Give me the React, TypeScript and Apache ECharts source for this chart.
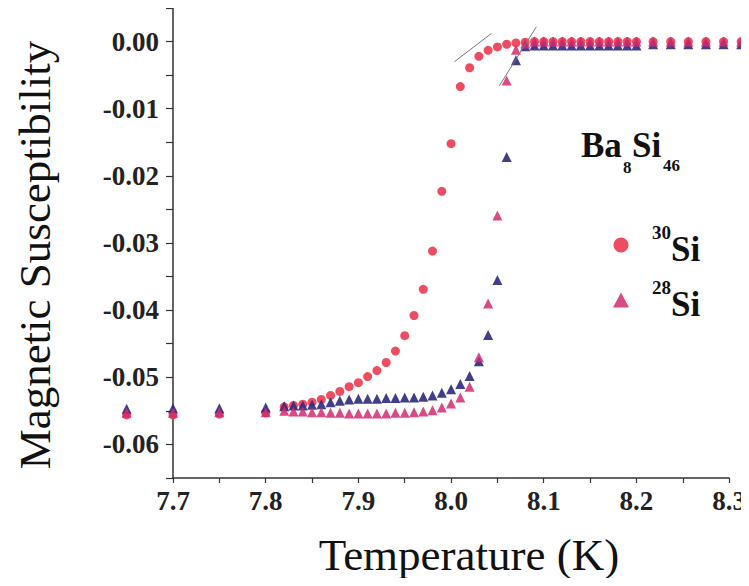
import React, { useEffect, useRef } from "react";
import * as echarts from "echarts";

// Temperature (K) of each measured point
const temperatures = [
  7.65, 7.7, 7.75, 7.8,
  7.82, 7.83, 7.84, 7.85, 7.86, 7.87, 7.88, 7.89, 7.9, 7.91, 7.92, 7.93, 7.94,
  7.95, 7.96, 7.97, 7.98, 7.99, 8.0, 8.01, 8.02, 8.03, 8.04, 8.05, 8.06, 8.07,
  8.08, 8.09, 8.1, 8.11, 8.12, 8.13, 8.14, 8.15, 8.16, 8.17, 8.18, 8.19, 8.2,
  8.218, 8.237, 8.256, 8.275, 8.294, 8.313,
];

// 30Si (red circles)
const si30 = [
  -0.0556, -0.0556, -0.0555, -0.0553,
  -0.0544, -0.0542, -0.054, -0.0537, -0.0533, -0.0527, -0.0521, -0.0514, -0.0508,
  -0.0499, -0.049, -0.0478, -0.0461, -0.0438, -0.0408, -0.0369, -0.0312, -0.0223,
  -0.0152, -0.0067, -0.0039, -0.0022, -0.0013, -0.0008, -0.0004, -0.0002,
  -0.0001, 0, 0, 0, 0, 0, 0, 0, 0, 0, 0, 0, 0,
  0, 0, 0, 0, 0, 0,
];

// 28Si (magenta triangles)
const si28 = [
  -0.0553, -0.0553, -0.0552, -0.0552,
  -0.055, -0.0551, -0.0551, -0.0552, -0.0552, -0.0553, -0.0553, -0.0554, -0.0554,
  -0.0554, -0.0554, -0.0554, -0.0553, -0.0553, -0.0552, -0.0551, -0.0549, -0.0545,
  -0.0539, -0.053, -0.0514, -0.047, -0.039, -0.0259, -0.0058, -0.0012,
  -0.0003, 0, 0, 0, 0, 0, 0, 0, 0, 0, 0, 0, 0,
  0, 0, 0, 0, 0, 0,
];

// 28Si, second run (navy triangles)
const si28b = [
  -0.0547, -0.0546, -0.0546, -0.0545,
  -0.0543, -0.0542, -0.0542, -0.0541, -0.054, -0.0537, -0.0535, -0.0533, -0.0532,
  -0.0532, -0.0532, -0.0531, -0.0531, -0.053, -0.053, -0.0529, -0.0527, -0.0523,
  -0.0518, -0.051, -0.0498, -0.0476, -0.0437, -0.0355, -0.0172, -0.0028,
  -0.0007, -0.0006, -0.0006, -0.0006, -0.0006, -0.0006, -0.0006, -0.0006, -0.0006,
  -0.0006, -0.0006, -0.0006, -0.0006,
  -0.0004, -0.0004, -0.0004, -0.0004, -0.0004, -0.0004,
];

// thin onset tangent lines [T, chi]
const tangentA = [
  [8.0036, -0.003],
  [8.0435, 0.0012],
];
const tangentB = [
  [8.052, -0.0066],
  [8.092, 0.0022],
];

const legendNames = ["30Si", "28Si"];
const xTitle = "Temperature (K)";
const yTitle = "Magnetic Susceptibility";

const SERIF = "'Liberation Serif', 'DejaVu Serif', serif";

const zip = (ys: number[]) => temperatures.map((t, i) => [t, ys[i]]);

export default function App() {
  const ref = useRef<HTMLDivElement>(null);
  useEffect(() => {
    if (!ref.current) return;
    const chart = echarts.init(ref.current, undefined, { renderer: "svg" });
    const option: any = {
      animation: false,
      backgroundColor: "#ffffff",
      grid: { left: 173, right: 19, top: 8, bottom: 108 },
      xAxis: {
        type: "value",
        min: 7.7,
        max: 8.3,
        interval: 0.05,
        axisLine: { show: true, onZero: false, lineStyle: { color: "#333", width: 1.5 } },
        axisTick: { show: true, length: 5, lineStyle: { color: "#333", width: 1.2 } },
        splitLine: { show: false },
        axisLabel: {
          fontFamily: SERIF,
          fontWeight: "bold",
          fontSize: 27,
          color: "#222",
          margin: 9,
          formatter: (v: number) =>
            Math.round(v * 100) % 10 === 0 ? v.toFixed(1) : "",
        },
      },
      yAxis: {
        type: "value",
        min: -0.065,
        max: 0.005,
        interval: 0.005,
        axisLine: { show: true, onZero: false, lineStyle: { color: "#333", width: 1.5 } },
        axisTick: { show: true, length: 7, lineStyle: { color: "#333", width: 1.2 } },
        splitLine: { show: false },
        axisLabel: {
          fontFamily: SERIF,
          fontWeight: "bold",
          fontSize: 27,
          color: "#222",
          margin: 14,
          formatter: (v: number) => {
            if (Math.round(v * 1000) % 10 !== 0) return "";
            if (Math.abs(v) < 1e-9) return "0.00";
            return v.toFixed(2);
          },
        },
      },
      legend: {
        data: legendNames,
        orient: "vertical",
        left: 608,
        top: 218,
        itemWidth: 16,
        itemHeight: 15,
        itemGap: 11,
        formatter: (n: string) =>
          n === "30Si" ? "{sp| }{sup|30}{si|Si}" : "{sp| }{sup|28}{si|Si}",
        textStyle: {
          rich: {
            sp: { width: 18, fontSize: 10 },
            sup: {
              fontFamily: SERIF,
              fontWeight: "bold",
              fontSize: 19,
              lineHeight: 20,
              color: "#111",
              verticalAlign: "top",
            },
            si: {
              fontFamily: SERIF,
              fontWeight: "bold",
              fontSize: 35,
              lineHeight: 44,
              color: "#111",
              verticalAlign: "bottom",
            },
          },
        },
      },
      graphic: [
        {
          type: "text",
          x: 35,
          y: 255,
          rotation: Math.PI / 2,
          style: {
            text: yTitle,
            font: `45px ${SERIF}`,
            fill: "#111",
            align: "center",
            verticalAlign: "middle",
          },
        },
        {
          type: "text",
          x: 469,
          y: 555,
          style: {
            text: xTitle,
            font: `45px ${SERIF}`,
            fill: "#111",
            align: "center",
            verticalAlign: "middle",
          },
        },
        {
          type: "text",
          x: 581,
          y: 145,
          style: { text: "Ba", font: `bold 35px ${SERIF}`, fill: "#111", align: "left", verticalAlign: "middle" },
        },
        {
          type: "text",
          x: 623,
          y: 167,
          style: { text: "8", font: `bold 17px ${SERIF}`, fill: "#111", align: "left", verticalAlign: "middle" },
        },
        {
          type: "text",
          x: 632,
          y: 145,
          style: { text: "Si", font: `bold 35px ${SERIF}`, fill: "#111", align: "left", verticalAlign: "middle" },
        },
        {
          type: "text",
          x: 663,
          y: 165,
          style: { text: "46", font: `bold 17px ${SERIF}`, fill: "#111", align: "left", verticalAlign: "middle" },
        },
      ],
      series: [
        {
          name: "30Si",
          type: "scatter",
          symbol: "circle",
          symbolSize: 9,
          clip: false,
          itemStyle: { color: "#ec3a50", opacity: 0.9 },
          data: zip(si30),
        },
        {
          name: "28Si run 2",
          type: "scatter",
          symbol: "triangle",
          symbolSize: 10,
          clip: false,
          itemStyle: { color: "#2c2a80", opacity: 0.9 },
          data: zip(si28b),
        },
        {
          name: "28Si",
          type: "scatter",
          symbol: "triangle",
          symbolSize: 10,
          clip: false,
          itemStyle: { color: "#d42a6e", opacity: 0.85 },
          data: zip(si28),
        },
        {
          name: "tangent A",
          type: "line",
          symbol: "none",
          silent: true,
          clip: false,
          lineStyle: { color: "#777", width: 1 },
          data: tangentA,
        },
        {
          name: "tangent B",
          type: "line",
          symbol: "none",
          silent: true,
          clip: false,
          lineStyle: { color: "#777", width: 1 },
          data: tangentB,
        },
      ],
    };
    chart.setOption(option);
    return () => chart.dispose();
  }, []);
  return <div ref={ref} style={{ width: 749, height: 586, margin: -8 }} />;
}
